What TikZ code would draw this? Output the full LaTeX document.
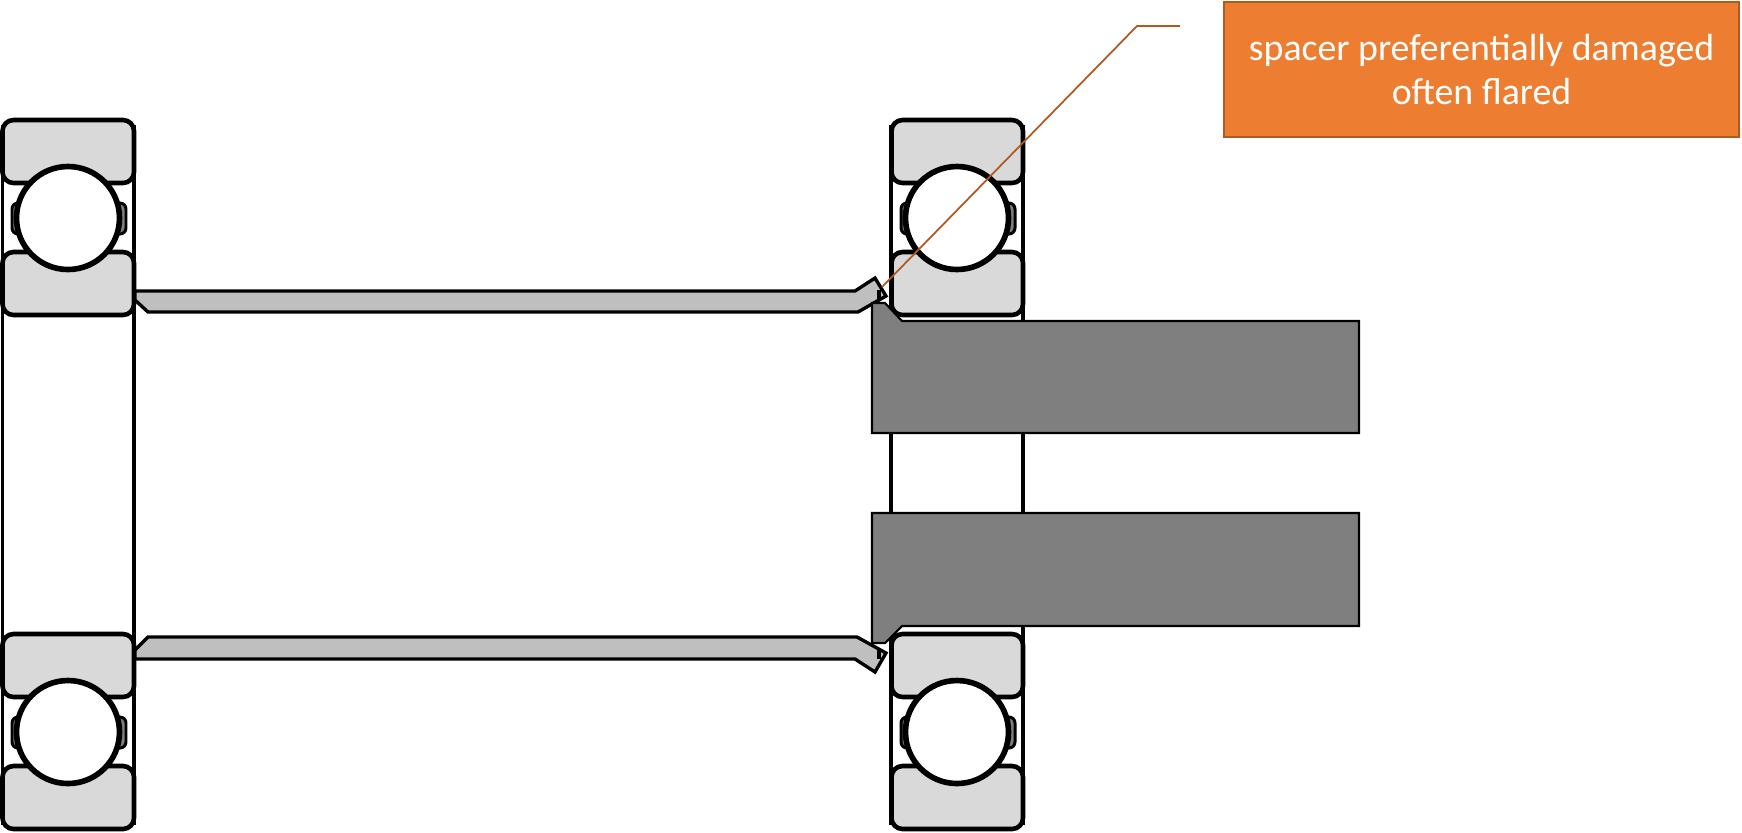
\documentclass[tikz,border=0pt]{standalone}
\usepackage{fontspec}
\setmainfont{Carlito}
\begin{document}
\begin{tikzpicture}[
x=0.01cm, y=-0.01cm,
ringnode/.style={draw=black, line width=1.3pt, fill=ringgray, rounded corners=0.11cm},
tabnode/.style={draw=black, line width=0.85pt, fill=shaftgray, rounded corners=0.06cm},
ballnode/.style={draw=black, line width=1.6pt, fill=white},
wallline/.style={draw=black, line width=1.05pt},
spacerline/.style={draw=black, line width=0.95pt, fill=spacergray, line join=miter},
shaftline/.style={draw=black, line width=0.6pt, fill=shaftgray},
noteline/.style={draw=noteedge, line width=0.5pt},
notenode/.style={rectangle, draw=noteedge, line width=0.5pt, fill=notefill, text=white, align=center, font=\fontsize{10.75}{12.7}\selectfont},
]
\definecolor{ringgray}{HTML}{D9D9D9}
\definecolor{spacergray}{HTML}{BFBFBF}
\definecolor{shaftgray}{HTML}{7F7F7F}
\definecolor{notefill}{HTML}{ED7D31}
\definecolor{noteedge}{HTML}{AE5A21}
\useasboundingbox (0,0) rectangle (1742,832);
%Walls
\draw[wallline] (2.5,125) -- (2.5,825);
\draw[wallline] (134,125) -- (134,825);
\draw[wallline] (891,125) -- (891,825);
\draw[wallline] (1023,125) -- (1023,825);
%Bearings
\foreach \xs/\ys in {0/0, 0/514, 889/0, 889/514} {
  \begin{scope}[shift={(\xs,\ys)}]
    \draw[ringnode] (2.5,120) rectangle (134,183);
    \draw[ringnode] (2.5,252) rectangle (134,315);
    \draw[tabnode] (12,203) rectangle (30,234);
    \draw[tabnode] (107,203) rectangle (126,234);
    \draw[ballnode] (68,218) circle (51.5);
  \end{scope}
}
%Spacers
\draw[spacerline] (135,291) -- (855,291) -- (875,278) -- (886,296) -- (858,312) -- (148,312) -- (135,300) -- cycle;
\draw[spacerline] (135,650) -- (148,637) -- (857,637) -- (886,653) -- (875,672) -- (855,659) -- (135,659) -- cycle;
\draw[draw=black, line width=1.1pt] (879,290) -- (879,299);
\draw[draw=black, line width=1.1pt] (879,650) -- (879,659);
%Shafts
\draw[shaftline] (872,303) -- (885,303) -- (902,321) -- (1359,321) -- (1359,433) -- (872,433) -- cycle;
\draw[shaftline] (872,513) -- (1359,513) -- (1359,626) -- (902,626) -- (885,643) -- (872,643) -- cycle;
%Nodes
\node[notenode, minimum width=5.15cm, minimum height=1.35cm, anchor=north west, inner sep=0pt] (note) at (1223,1) {spacer preferentially damaged\\often flared};
\coordinate (flareTip) at (882,287);
\coordinate (noteElbow) at (1137,26);
\coordinate (noteEnd) at (1180,26);
%Lines
\draw[noteline] (flareTip) -- (noteElbow) -- (noteEnd);
\end{tikzpicture}
\end{document}
